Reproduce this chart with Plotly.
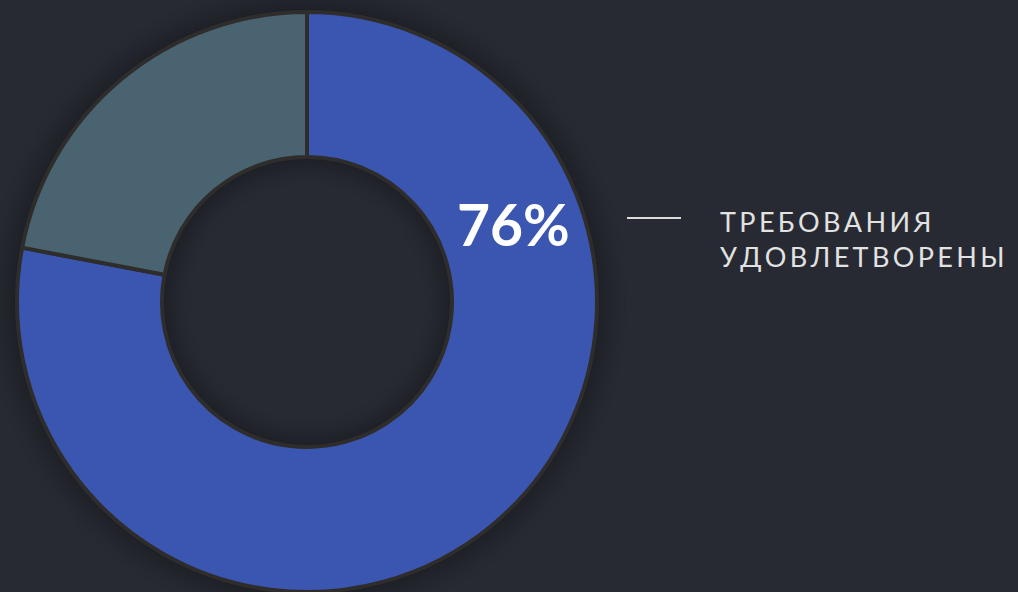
import plotly.graph_objects as go

labels = ["Требования удовлетворены", "Остальное"]
values = [78, 22]
colors = ["#3b56b1", "#4a6370"]
center_text = "76%"
legend_lines = ["ТРЕБОВАНИЯ", "УДОВЛЕТВОРЕНЫ"]

W, H = 1018, 592
BG = "#272a32"

def spaced(s):
    return "\u2009".join(s)

cx, cy, R, RIN = 307, 302, 290, 145

fig = go.Figure()
fig.add_trace(go.Pie(
    labels=labels, values=values, hole=0.5, sort=False, direction="clockwise",
    rotation=0, textinfo="none", hoverinfo="label+percent",
    marker=dict(colors=colors, line=dict(color="#2e2d2c", width=4)),
    domain=dict(x=[(cx - R) / W, (cx + R) / W], y=[(H - cy - R) / H, (H - cy + R) / H]),
    showlegend=False,
))

def ring(r, width, alpha):
    return dict(type="circle", xref="paper", yref="paper",
                x0=(cx - r) / W, x1=(cx + r) / W,
                y0=(H - cy - r) / H, y1=(H - cy + r) / H,
                fillcolor="rgba(0,0,0,0)",
                line=dict(color=f"rgba(0,0,0,{alpha})", width=width), layer="below")

shapes = []
# soft outer shadow
for i in range(10):
    shapes.append(ring(R + 2 + i * 3, 3, 0.22 * (1 - i / 10) ** 1.5))
# inner shadow in the hole
for i in range(9):
    shapes.append(ring(RIN - 2 - i * 3, 3, 0.22 * (1 - i / 9) ** 1.5))
# legend dash
shapes.append(dict(type="line", xref="paper", yref="paper",
                   x0=627 / W, x1=681 / W, y0=(H - 218) / H, y1=(H - 218) / H,
                   line=dict(color="#dcdcdc", width=2)))

annotations = [
    dict(text="<b>" + center_text + "</b>", x=513 / W, y=(H - 224) / H, xref="paper", yref="paper",
         showarrow=False, xanchor="center", yanchor="middle",
         font=dict(family="Lato", size=57, color="white")),
    dict(text=spaced(legend_lines[0]) + "<br>" + spaced(legend_lines[1]),
         x=718 / W, y=(H - 239) / H, xref="paper", yref="paper", showarrow=False,
         xanchor="left", yanchor="middle", align="left",
         font=dict(family="Lato", size=27, color="#e2e2e2")),
]

fig.update_layout(width=W, height=H, margin=dict(l=0, r=0, t=0, b=0),
                  paper_bgcolor=BG, plot_bgcolor=BG,
                  shapes=shapes, annotations=annotations)
fig.write_html("out.html", config={"displayModeBar": False},
               post_script="document.body.style.margin='0';document.body.style.background='#272a32';")
